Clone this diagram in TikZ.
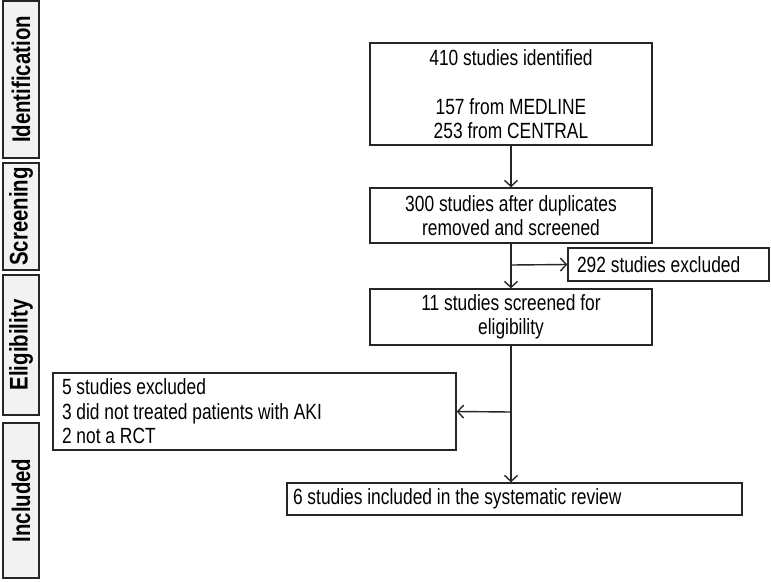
\documentclass[tikz,border=0pt]{standalone}
\usepackage{fontspec}
\setmainfont{Liberation Sans}[FakeStretch=0.79]
\newfontfamily\labfont{Liberation Sans}[FakeStretch=0.8]
\usetikzlibrary{arrows.meta}
\definecolor{edge}{HTML}{262626}
\definecolor{phasefill}{HTML}{F2F2F2}
\begin{document}
\begin{tikzpicture}[x=1pt,y=-1pt,
  box/.style={draw=edge, line width=1.4pt, inner sep=0pt, font=\fontsize{22}{24.5}\selectfont, align=center},
  lbox/.style={draw=edge, line width=1.4pt, inner ysep=0pt, font=\fontsize{22}{24.5}\selectfont, align=flush left},
  phase/.style={draw=edge, fill=phasefill, line width=1.4pt, rotate=90, font=\labfont\bfseries\fontsize{25.5}{30}\selectfont, inner sep=0pt, minimum height=36},
  arr/.style={line width=1.4pt, draw=edge, -{Straight Barb[length=6pt,width=13pt,line width=1.4pt]}},
  ln/.style={line width=1.4pt, draw=edge}]
\useasboundingbox (0,0) rectangle (771,581);

% phase labels
\node[phase, minimum width=157] (pid) at (21,79.5) {Identification};
\node[phase, minimum width=107] (pscr) at (21,216.5) {Screening};
\node[phase, minimum width=140] (pel) at (21,345) {Eligibility};
\node[phase, minimum width=155] (pinc) at (21,500.5) {Included};

% flow boxes
\node[box, minimum width=282, minimum height=102] (b1) at (511,94)
  {410 studies identified\\[24.5pt]157 from MEDLINE\\253 from CENTRAL};
\node[box, minimum width=282, minimum height=55] (b2) at (511,215.5)
  {300 studies after duplicates\\removed and screened};
\node[lbox, text width=183, inner xsep=9, minimum height=33] (bx1) at (668.5,264.5)
  {292 studies excluded};
\node[box, minimum width=282, minimum height=56] (b3) at (511,317)
  {11 studies screened for\\eligibility};
\node[lbox, text width=385, inner xsep=9, minimum height=77] (bx2) at (254.5,411.5)
  {5 studies excluded\\3 did not treated patients with AKI\\2 not a RCT};
\node[lbox, text width=443, inner xsep=6, minimum height=32] (b4) at (514.5,499)
  {6 studies included in the systematic review};

% connectors
\coordinate (j1) at (511,265);
\coordinate (j2) at (511,412);
\draw[arr] (b1.south) -- (b2.north);
\draw[arr] (b2.south) -- (b3.north);
\draw[arr] (j1) -- (bx1.west);
\draw[arr] (b3.south) -- (b3.south |- b4.north);
\draw[arr] (j2) -- (bx2.east);
\end{tikzpicture}
\end{document}
